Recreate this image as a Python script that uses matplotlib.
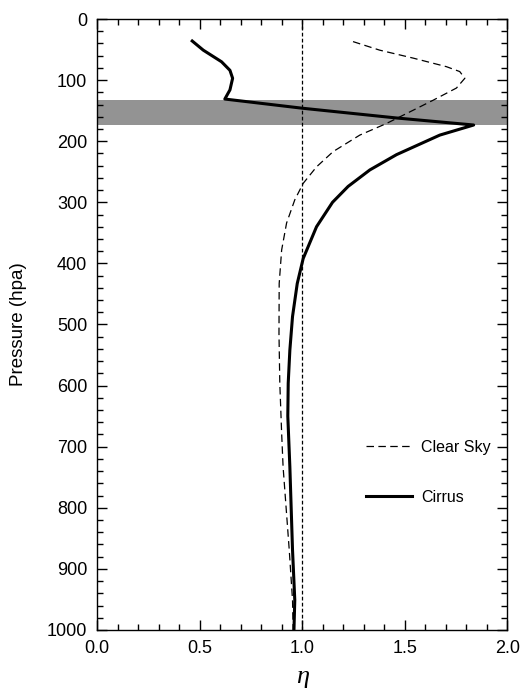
import matplotlib
matplotlib.use("Agg")
import matplotlib.pyplot as plt
from matplotlib.ticker import MultipleLocator, FormatStrFormatter
from matplotlib.lines import Line2D

# Cirrus profile (eta vs pressure hPa)
cirrus_p = [36, 51, 70, 84, 97, 116, 131, 146, 162, 173.5, 190, 222, 247, 274, 300,
            340, 392, 433, 487, 542, 596, 650, 733, 869, 951, 1000]
cirrus_eta = [0.464, 0.518, 0.607, 0.648, 0.661, 0.648, 0.623, 1.0, 1.46, 1.836, 1.671, 1.46,
              1.33, 1.224, 1.148, 1.07, 1.005, 0.976, 0.953, 0.940, 0.932, 0.930,
              0.940, 0.953, 0.964, 0.960]

# Clear sky profile
clear_p = [37, 51, 64, 78, 86, 97, 113, 133, 152, 171, 190, 217, 242, 269, 296, 334,
           378, 433, 515, 596, 678, 733, 869, 951, 1000]
clear_eta = [1.248, 1.378, 1.541, 1.703, 1.768, 1.793, 1.752, 1.638, 1.525, 1.411, 1.281,
             1.151, 1.07, 1.005, 0.964, 0.924, 0.90, 0.888, 0.887, 0.891, 0.90, 0.907,
             0.937, 0.953, 0.956]

# Cirrus cloud layer (hPa)
band_top = 132
band_bottom = 173

ref_eta = 1.0

plt.rcParams['font.family'] = ['Liberation Sans', 'DejaVu Sans']

fig = plt.figure(figsize=(5.23, 6.91), dpi=100)
ax = fig.add_axes([0.1855, 0.0883, 0.7845, 0.8842])

ax.axhspan(band_top, band_bottom, color='#939393', lw=0, zorder=1)
ax.axvline(ref_eta, color='black', lw=0.9, dashes=(3, 1.8), zorder=2)
ax.plot(clear_eta, clear_p, color='black', lw=0.9, dashes=(6, 3.5), zorder=3)
ax.plot(cirrus_eta, cirrus_p, color='black', lw=2.2, zorder=4)

ax.set_xlim(0, 2.0)
ax.set_ylim(1000, 0)
ax.xaxis.set_major_locator(MultipleLocator(0.5))
ax.xaxis.set_minor_locator(MultipleLocator(0.1))
ax.yaxis.set_major_locator(MultipleLocator(100))
ax.yaxis.set_minor_locator(MultipleLocator(20))
ax.xaxis.set_major_formatter(FormatStrFormatter('%.1f'))

ax.tick_params(which='both', direction='in', top=True, right=True, width=1.0, colors='black')
ax.tick_params(which='major', length=7, labelsize=13, pad=7)
ax.tick_params(which='minor', length=4)
for s in ax.spines.values():
    s.set_linewidth(1.0)

ax.set_ylabel('Pressure (hpa)', fontsize=13.5, labelpad=14)
ax.set_xlabel('\u03b7', fontsize=19, family='Liberation Serif', style='italic', labelpad=7)

handles = [Line2D([], [], color='black', lw=0.9, dashes=(6, 3.5)),
           Line2D([], [], color='black', lw=2.2)]
leg = ax.legend(handles, ['Clear Sky', 'Cirrus'], loc='upper left',
                bbox_to_anchor=(0.62, 0.335), frameon=False, fontsize=11.5,
                handlelength=2.9, handletextpad=0.55, labelspacing=2.2)

fig.savefig('out.png', dpi=100)
